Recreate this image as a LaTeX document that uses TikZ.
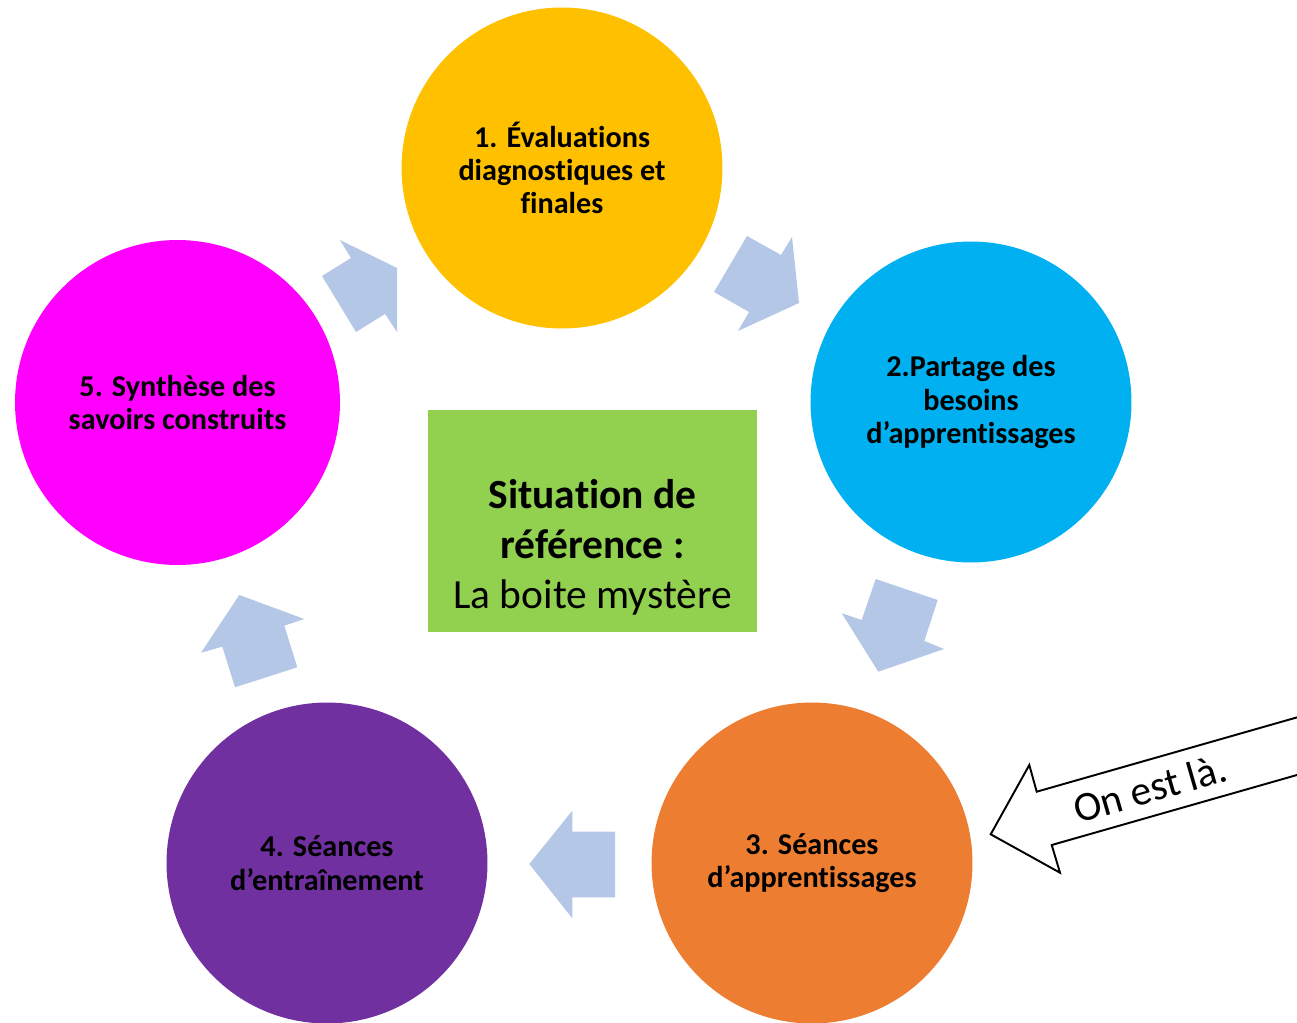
\documentclass[tikz,border=0pt]{standalone}
\usepackage{fontspec}
\setmainfont{Carlito}[Ligatures=NoCommon]
\usetikzlibrary{shapes}
\definecolor{c1}{HTML}{FFC000}
\definecolor{c2}{HTML}{00B0F0}
\definecolor{c3}{HTML}{ED7D31}
\definecolor{c4}{HTML}{7030A0}
\definecolor{c5}{HTML}{FF00FF}
\definecolor{c6}{HTML}{92D050}
\definecolor{arrowColor}{HTML}{B4C7E7}
\tikzstyle{circ}=[circle, minimum size=6.42cm, inner sep=0pt, align=center, font=\fontsize{17.2}{19}\selectfont\bfseries]
\tikzstyle{box}=[rectangle, fill=c6, minimum width=6.57cm, minimum height=4.43cm, inner sep=0pt]
\tikzstyle{boxText}=[align=center, font=\fontsize{23.6}{28.5}\selectfont]
\tikzstyle{barrow}=[fill=arrowColor]
\tikzstyle{callout}=[draw=black, fill=white, line width=1.1pt, line join=miter]

\begin{document}
\begin{tikzpicture}[x=0.02cm, y=-0.02cm]
      \useasboundingbox (0,0) rectangle (1297,1023);
      \node (eval) [circ, fill=c1] at (562,168) {1. Évaluations\\diagnostiques et\\finales};
      \node (partage) [circ, fill=c2] at (971,402) {2.Partage des\\besoins\\d’apprentissages};
      \node (seances) [circ, fill=c3] at (812,863) {3. Séances\\d’apprentissages};
      \node (entrain) [circ, fill=c4] at (327,863) {4. Séances\\d’entraînement};
      \node (synth) [circ, fill=c5, minimum size=6.5cm] at (177.5,402.5) {5. Synthèse des\\savoirs construits};
      \node (situation) [box] at (592.5,521) {};
      \node (situationText) [boxText] at (592.5,547) {\textbf{Situation de}\\\textbf{référence :}\\La boite mystère};
      \fill [barrow] (340,240) -- (397,268) -- (397,332) -- (385,314) -- (356,332) -- (322,276) -- (351,258) -- cycle;
      \fill [barrow] (747,236) -- (781,255) -- (792,237) -- (799,303) -- (738,331) -- (749,312) -- (714,292) -- cycle;
      \fill [barrow] (875.7,579) -- (937.7,600) -- (924.3,641) -- (944,649) -- (878.3,671.7) -- (841.7,613.3) -- (861.7,620) -- cycle;
      \fill [barrow] (615,831.7) -- (615,897.3) -- (572.3,897.3) -- (572.3,918.3) -- (529.3,864) -- (572.3,810.7) -- (572.3,831.7) -- cycle;
      \fill [barrow] (239.3,595) -- (304.3,619) -- (284.3,625.7) -- (297.3,667.3) -- (235,687.3) -- (222.3,646.7) -- (201,652.7) -- cycle;
      \draw [callout] (1340,705.1) -- (1036.7,791.7) -- (1029.3,765) -- (990.7,834.3) -- (1060,872.7) -- (1051.7,845) -- (1340,762.7);
      \node (here) [anchor=base, rotate=16, font=\fontsize{23.6}{28.5}\selectfont] at (1154,802) {On est là.};
    \end{tikzpicture}
\end{document}
